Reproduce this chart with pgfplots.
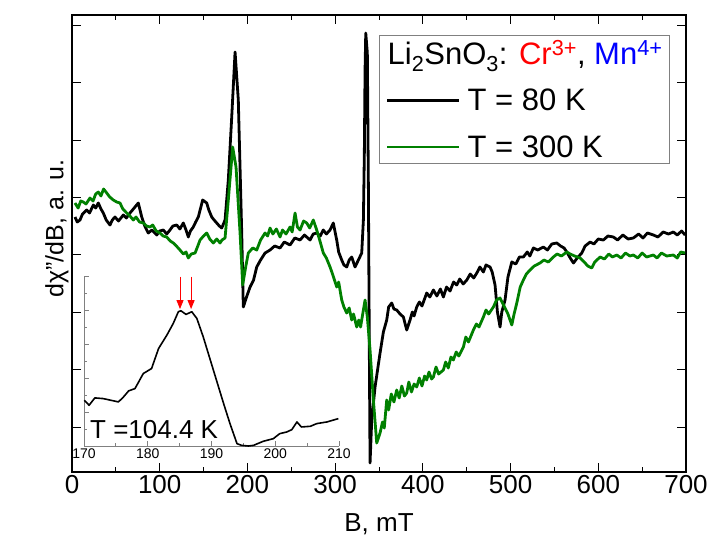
\documentclass[border=0pt]{standalone}
\usepackage{fontspec}
\setmainfont{Liberation Sans}
\usepackage{pgfplots}
\pgfplotsset{compat=1.18}
\usetikzlibrary{arrows.meta}
\definecolor{dgreen}{rgb}{0,0.5,0}

\begin{document}
\begin{tikzpicture}
\begin{axis}[
  at={(0pt,0pt)}, anchor=south west,
  scale only axis, width=614pt, height=457pt,
  xmin=0, xmax=700, ymin=0, ymax=457,
  xtick={0,100,...,700}, minor x tick num=1,
  ytick={45,102.4,...,450}, yticklabels={},
  tick align=inside, major tick length=9pt, minor tick length=5pt,
  axis line style={line width=1.2pt},
  tick style={black, line width=1pt},
  tick label style={font=\fontsize{26}{30}\selectfont},
  /pgf/number format/assume math mode=true,
  xlabel={B, mT},
  xlabel style={font=\fontsize{26}{30}\selectfont, at={(axis description cs:0.5,0)}, anchor=north, yshift=-38pt},
  ylabel={dχ"/dB, a. u.},
  ylabel style={font=\fontsize{25}{30}\selectfont, at={(axis description cs:0,0.57)}, anchor=south, xshift=-17pt},
  legend style={at={(0.974,0.956)}, anchor=north east, draw=gray, line width=1pt,
    font=\fontsize{31}{34}\selectfont, row sep=21pt, column sep=6pt,
    inner xsep=6pt, inner ysep=4pt,
    nodes={inner sep=1pt}},
  legend cell align=left,
  legend image code/.code={\draw[#1] (0pt,0pt) -- (72pt,0pt);},
  every axis plot/.append style={line join=round},
]
\addlegendimage{empty legend}
\addlegendentry{\hspace{-80pt}\rule[-16pt]{0pt}{30pt}Li\textsubscript{2}SnO\textsubscript{3}: \textcolor{red}{Cr\textsuperscript{3+}}, \textcolor{blue}{Mn\textsuperscript{4+}}}

% T = 80 K
\addplot[black, line width=2.8pt] coordinates {
(3.4,255)(6,250)(9.1,252)(12,258)(16.8,262)(20,259)(24.3,267)(27,264)(30.0,269)(33,263)(35.7,259)
(39,252)(43.3,247)(46,252)(49.0,255)(53,251)(58.5,257)(62,254)(66.1,259)(69,262)(71.8,265)(75.6,269)
(79.5,255)(83,246)(87.0,239)(91,242)(96.6,237)(100,241)(104.1,242)(108,238)(111.7,242)(115,246)
(119.4,247)(123,243)(126.9,249)(130,242)(132.6,235)(135,241)(138.3,245)(141,250)(144.0,255)
(149.0,272)(153.6,269)(156,262)(159.3,255)(162,252)(165.0,249)(168,246)(170.7,244)(174.5,252)
(178.2,292)(182.1,355)(185.9,420)(189.6,372)(193.5,239)(195.3,165)(199,175)(203.0,185)(207,192)
(210.6,205)(215,212)(220.1,219)(225.8,222)(231,226)(237.2,224)(242,230)(248.6,227)(254,234)
(260.0,232)(265,237)(271.4,232)(275,238)(279.0,239)(283,236)(286.5,242)(290,238)(294.2,242)
(297.9,249)(301.8,232)(304,220)(307.5,212)(310,207)(313.2,205)(316,212)(318.9,215)(322.7,205)
(326.5,212)(330.3,219)(332.2,252)(333.3,319)(334.1,402)(334.9,439)(336.7,419)(337.9,285)
(339.0,119)(339.8,9)(341.7,52)(345.5,85)(351.2,119)(355,140)(358.8,152)(361,165)(364.5,169)
(367,163)(370.2,162)(374,158)(377.8,155)(381.6,142)(385.4,152)(388,160)(390,156)(393,165)
(396,170)(399,166)(404.4,179)(408,175)(412,182)(416,176)(420,183)(423.4,175)(427,185)(431,181)
(435,190)(438.6,187)(442,193)(446,188)(450.1,192)(454,198)(458,194)(461.5,199)(465,205)(469,200)
(472,207)(476.6,205)(479,200)(482.3,187)(485,160)(488.0,145)(490,160)(493.7,172)(497,195)
(501.4,210)(506,208)(510,215)(514.6,215)(519,220)(522,216)(526.0,224)(531,222)(537.4,225)
(542,222)(547,228)(552.7,229)(557,226)(561,224)(564.1,220)(568,214)(571.7,209)(576,214)
(581.2,219)(585,226)(590.7,230)(595,228)(600,233)(605.8,232)(611,236)(617.2,235)(622,232)
(628,237)(634,233)(640.0,234)(646,238)(651,234)(656,239)(662.8,237)(668,235)(674,240)(680,238)
(685.6,240)(690,237)(695,241)(699.0,237)
};
\addlegendentry{T = 80 K}

% T = 300 K
\addplot[dgreen, line width=2.8pt] coordinates {
(3.4,269)(7,264)(10,271)(12.9,270)(16,268)(20.5,274)(24,271)(27,278)(30.0,280)(33,276)(36,283)
(39.6,279)(43,275)(47.1,272)(51,270)(54.7,269)(58,263)(62.4,259)(66,256)(69.9,252)(73,255)
(77,250)(81.3,249)(85,246)(88.9,245)(92,247)(96,241)(100.3,239)(104,236)(108.0,235)(112,231)
(115.5,229)(119,226)(123.1,222)(127,218)(130,220)(132.6,214)(136,218)(140.3,219)(143,225)
(146.0,232)(150,236)(153.6,239)(157,233)(161.1,229)(165,233)(168.8,229)(171,232)(174.5,234)
(178.2,272)(183.2,325)(187.0,305)(191.6,239)(194.6,187)(198,205)(201.0,219)(206,224)(210.6,222)
(215,232)(220.1,239)(223,236)(225.8,244)(229,238)(233,243)(237.2,235)(240,242)(244,238)(248.6,245)
(251,240)(254.3,259)(257,245)(260.0,242)(264,251)(267.6,249)(271,244)(275.1,252)(279.0,242)
(283,230)(286.5,219)(290,214)(294.2,205)(297,198)(301.8,185)(304,190)(307.5,172)(310,165)
(313.2,159)(316,164)(318.9,152)(321,158)(324.6,145)(327,152)(329,145)(332.2,162)(334.1,172)
(336.7,155)(339.8,122)(343.6,72)(347.4,29)(351.2,39)(354,50)(356,44)(358.8,72)(361,62)(364,78)
(367,70)(370.2,82)(373,74)(376,86)(379,76)(381.6,79)(384,90)(387,80)(390,88)(393,85)(396,94)
(399,86)(402,96)(404.4,92)(407,100)(410,93)(412,95)(415,105)(418,98)(423.4,102)(426,110)
(429,104)(432,115)(434.8,112)(438,120)(441,116)(446.2,125)(449,135)(452,130)(457.6,142)
(461,148)(464,145)(469,155)(472,162)(475,158)(480.4,165)(484,172)(488.0,174)(493.7,164)
(497,158)(501.4,147)(504,158)(507.1,169)(511,185)(514.6,192)(518,198)(522.2,202)(527,206)
(533.6,209)(538,212)(543,210)(548.8,215)(553,218)(558,216)(564.1,220)(568,218)(573,216)
(579.2,214)(584,210)(588,206)(592.6,204)(596,210)(602.1,215)(607,213)(612,218)(616,215)
(621.1,217)(626,214)(631,219)(636,216)(640.0,217)(645,214)(650,219)(655,215)(662.8,217)
(667,214)(672,219)(678,216)(685.6,217)(690,214)(694,220)(699.0,219)
};
\addlegendentry{T = 300 K}
\end{axis}

% inset
\begin{axis}[
  at={(12pt,26pt)}, anchor=south west,
  scale only axis, width=255pt, height=170pt,
  xmin=170, xmax=210, ymin=0, ymax=509,
  axis lines=left, axis line style={gray, line width=1pt, -},
  xtick={170,180,...,210}, minor x tick num=1,
  ytick={0,101.8,...,510}, minor y tick num=1, yticklabels={},
  tick align=inside, major tick length=5pt, minor tick length=3pt,
  tick style={gray, line width=0.8pt},
  tick label style={font=\fontsize{14}{16}\selectfont},
  xticklabel style={yshift=1pt},
  /pgf/number format/assume math mode=true,
  clip=false,
]
\addplot[black, line width=1.6pt, line join=round] coordinates {
(170.05,137)(170.8,122)(171.7,144)(173.0,142)(175.4,132)(176.2,147)(177.0,165)(178.0,172)
(179.3,217)(180.6,232)(181.7,292)(183.0,332)(184.0,367)(184.8,402)(185.2,405)(186.0,394)
(186.9,402)(187.7,382)(188.7,327)(190.3,227)(191.9,127)(192.9,67)(194.0,7)(194.7,2)(195.8,0)
(196.6,2)(198.1,14)(199.7,22)(200.7,37)(201.8,42)(202.6,49)(203.4,72)(204.1,57)(205.5,59)
(206.5,67)(208.1,72)(209.9,82)
};
\addplot[red, line width=1pt, -{Triangle[length=9pt,width=7pt]}] coordinates {(185.06,507)(185.06,410)};
\addplot[red, line width=1pt, -{Triangle[length=9pt,width=7pt]}] coordinates {(186.8,507)(186.8,410)};
\node[anchor=base west, inner sep=0pt, font=\fontsize{26}{30}\selectfont] at (axis cs:170.94,23) {T =104.4 K};
\end{axis}

\pgfresetboundingbox
\useasboundingbox (-72pt,-72pt) rectangle (636pt,472pt);
\end{tikzpicture}
\end{document}
